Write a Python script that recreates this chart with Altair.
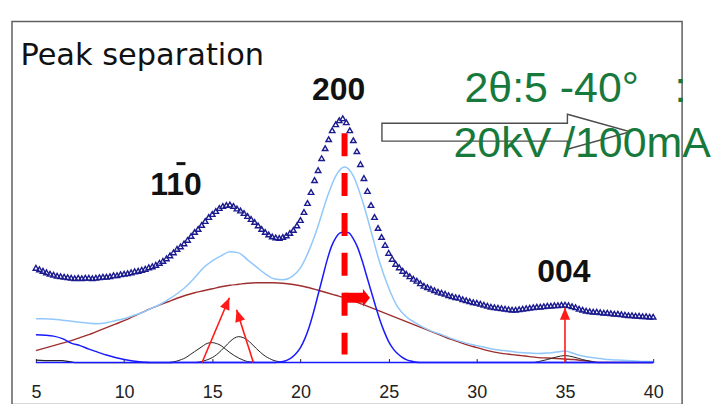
import altair as alt
import pandas as pd

# ---------------- data ----------------
# observed XRD intensity, 2theta = 5 .. 40 every 0.2 deg
obs_y = [95, 93.5, 92, 90.5, 89,
         88, 87, 86.5, 86, 85.5,
         85, 84.5, 85, 84.5, 85,
         85, 84.5, 85, 85.5, 86,
         86, 86.5, 87.5, 87.5, 88.5,
         89, 89.5, 90.5, 91.5, 92,
         93, 94, 95.5, 96.5, 98,
         100, 102, 104.5, 107.5, 110.5,
         114, 116.5, 119.5, 123, 127,
         131, 134, 138, 142, 146,
         149, 152, 155, 157, 158,
         158.5, 157, 154.5, 152.5, 150,
         147, 144, 141, 137.5, 134,
         131, 128.5, 126.5, 125.5, 125,
         126, 127.5, 130, 133, 137.5,
         143, 151, 160, 171, 183,
         193, 205, 215, 224, 233,
         239, 243, 245, 241, 233,
         223, 212, 199, 185, 172,
         158, 146, 135, 126, 118,
         110, 104, 99, 95.5, 92,
         89, 86.5, 84, 82, 79.5,
         77, 75.5, 74, 72.5, 71,
         70, 69, 67.5, 66.5, 65.5,
         65, 63.5, 62.5, 61.5, 60.5,
         60, 59, 58, 57, 56,
         55.5, 55, 54.5, 54, 53.5,
         53, 53, 53.5, 54, 54.5,
         55, 55.5, 56, 56, 56.5,
         57, 57, 57.5, 57.5, 58,
         58, 57.5, 56.5, 55.5, 54,
         53, 52, 51.5, 51, 51,
         50.5, 50, 50, 49.5, 49,
         49, 48.5, 48, 47.5, 47.5,
         47, 47, 46.5, 46.5, 46,
         46]
obs_x = [round(5 + 0.2 * i, 1) for i in range(len(obs_y))]

# fitted sum and amorphous background, every 0.5 deg
grid_x = [5 + 0.5 * i for i in range(71)]
sum_y = [44, 44, 43.5, 42.5, 41.5, 40.5, 39.5, 39, 40, 42, 44, 47, 50, 54, 58, 63,
         69, 76, 85, 95, 102, 107, 111, 110, 103, 96, 89, 84, 83, 86, 95, 113,
         137, 165, 187, 196, 187, 163, 132, 100, 75, 56, 46, 40, 35, 31, 28, 24.5,
         21.5, 19, 17, 15, 13, 12, 11, 10, 9.5, 9, 9.5, 10.5, 11.5, 9, 6.5, 5,
         4, 3, 2.5, 2, 1.5, 1, 1]
amor_y = [12, 14.5, 17, 19.5, 22, 25, 28, 31.5, 35, 38.5, 42, 46, 50, 54, 57.5, 61,
          64.5, 67.5, 70, 72, 74, 76, 77.5, 78.5, 79.5, 80, 80, 80, 79.5, 78.5, 77, 75,
          72.5, 70, 67.5, 65, 62, 58.5, 55, 51.5, 48, 44.5, 41, 37.5, 34, 30.5, 27, 23.5,
          20.5, 17.5, 15, 12.5, 10.5, 9, 8, 7, 6, 5, 4.5, 4, 3.5, 3, 2, 1,
          0, 0, 0, 0, 0, 0, 0]

# crystalline (200) peak
p200_x = [5, 18.5, 18.75, 19, 19.25, 19.5, 19.75, 20, 20.25, 20.5, 20.75, 21, 21.25,
          21.5, 21.75, 22, 22.25, 22.5, 22.75, 23, 23.25, 23.5, 23.75, 24, 24.25, 24.5,
          24.75, 25, 25.25, 25.5, 25.75, 26, 26.25, 26.5, 26.75, 40]
p200_y = [0, 0, 0.5, 1, 2.5, 5, 9, 15, 24, 36, 51, 68, 85,
          102, 116, 125, 130, 131, 130, 124, 115, 102, 87, 72, 57, 43,
          31, 21, 14, 9, 5.5, 3, 1.5, 0.5, 0, 0]

# low-angle component
low_x = [5, 5.5, 6, 6.5, 7, 7.5, 8, 8.5, 9, 9.5, 10, 10.5, 11, 11.5, 40]
low_y = [28, 27.5, 26.5, 24, 19.5, 17, 13.5, 10.5, 7.5, 5, 3, 1.5, 0.5, 0, 0]

# small black components
blk0_x = [5, 5.5, 6, 6.5, 6.9, 7.2, 12.75]
blk0_y = [2.5, 2, 2, 2, 1, 0, 0]
blk1_x = [12.5, 12.75, 13, 13.25, 13.5, 13.75, 14, 14.25, 14.5, 14.75, 15, 15.25, 15.5,
          15.75, 16, 16.25, 16.5, 16.75, 17, 17.25, 17.5]
blk1_y = [0, 0.5, 1.5, 3, 5, 8, 11, 14, 17, 19.5, 20, 19, 17,
          13.5, 10, 7, 4.5, 2.5, 1, 0.5, 0]
blk2_x = [14, 14.25, 14.5, 14.75, 15, 15.25, 15.5, 15.75, 16, 16.25, 16.5, 16.75, 17,
          17.25, 17.5, 17.75, 18, 18.25, 18.5, 18.75, 19]
blk2_y = [0, 0.5, 1.5, 3, 5, 8, 12, 16.5, 21, 24.5, 26, 25, 22.5,
          18.5, 14, 10, 6.5, 4, 2, 1, 0]
blk4_x = [33.25, 33.5, 34, 34.5, 35, 35.5, 36, 36.5, 36.75]
blk4_y = [0, 1, 3, 5.5, 7, 5.5, 3, 1, 0]

# annotations
tick_values = [5, 10, 15, 20, 25, 30, 35, 40]
arrow_x0 = [14.42, 17.33, 35.0]
arrow_y0 = [0, 0, 0]
arrow_x1 = [15.97, 16.38, 35.0]
arrow_y1 = [65, 53, 55]
arrow_angle = [22.9, 342.5, 0]

dash_x = [22.5]
dash_top = [230]
dash_bottom = [8]
shift_x0 = [22.5]
shift_x1 = [23.6]
shift_tip = [23.94]
shift_y = [65]

hkl_text = ["110", "200", "004"]
hkl_x = [12.94, 22.16, 34.94]
hkl_y = [168, 263, 81]
bar_x0 = [12.97]
bar_x1 = [13.48]
bar_y = [199.5]

title_text = ["Peak separation"]
title_x = [4.12]
title_y = [298]

NB = "\u00a0"
cond_text = ["2θ:5 -40°" + NB * 3 + ":", "20kV /100mA"]
cond_x = [29.3, 28.68]
cond_y = [261, 206]

big_arrow_x = [31.66]
big_arrow_y = [231.5]

# ---------------- chart ----------------
XS = alt.Scale(domain=[3.643, 41.64], nice=False, zero=False)
YS = alt.Scale(domain=[-42, 342], nice=False, zero=False)
XA = alt.Axis(values=tick_values, offset=-46, domain=False, grid=False, tickSize=4,
              tickColor="#222", tickWidth=1, labelFontSize=18, labelColor="#222",
              labelFont="Liberation Sans", labelPadding=21, title=None, labelFlush=False)


def X(f="x"):
    return alt.X(f + ":Q", scale=XS, axis=XA)


def Y(f="y"):
    return alt.Y(f + ":Q", scale=YS, axis=None)


def line(xs, ys, color, width, interp="monotone"):
    df = pd.DataFrame({"x": xs, "y": ys})
    return alt.Chart(df).mark_line(color=color, strokeWidth=width, interpolate=interp).encode(
        x=X(), y=Y())


layers = []
layers.append(line(grid_x, amor_y, "#9e2f2f", 1.4))
layers.append(line(grid_x, sum_y, "#92c8fb", 1.5))
layers.append(line(blk0_x, blk0_y, "#222222", 1.2, "linear"))
layers.append(line(blk1_x, blk1_y, "#222222", 1.0))
layers.append(line(blk2_x, blk2_y, "#222222", 1.0))
layers.append(line(blk4_x, blk4_y, "#222222", 1.0))
layers.append(line(low_x, low_y, "#1a1aff", 1.5))
layers.append(line(p200_x, p200_y, "#1a1aff", 1.5))

obs_df = pd.DataFrame({"x": obs_x, "y": obs_y})
layers.append(alt.Chart(obs_df).mark_point(shape="triangle-up", filled=False, color="#1b1b8f",
                                           size=30, strokeWidth=1.4, opacity=1).encode(x=X(), y=Y()))

# red dashed marker at 22.5
dash_df = pd.DataFrame({"x": dash_x, "y": dash_top, "y2": dash_bottom})
layers.append(alt.Chart(dash_df).mark_rule(color="#ff0000", strokeWidth=6, strokeDash=[23, 17]).encode(
    x=X(), y=Y(), y2="y2:Q"))

# red block arrow (shift to the right)
shift_df = pd.DataFrame({"x": shift_x0, "x2": shift_x1, "y": shift_y, "tip": shift_tip})
layers.append(alt.Chart(shift_df).mark_rule(color="#ff0000", strokeWidth=10).encode(
    x=X(), x2="x2:Q", y=Y()))
layers.append(alt.Chart(shift_df).mark_point(shape="M0,0L-2,-2.5L-2,2.5Z", filled=True, color="#ff0000",
                                             size=49, opacity=1).encode(x=X("tip"), y=Y()))

# thin red arrows
arr_df = pd.DataFrame({"x": arrow_x0, "y": arrow_y0, "x2": arrow_x1, "y2": arrow_y1, "a": arrow_angle})
layers.append(alt.Chart(arr_df).mark_rule(color="#ff1a1a", strokeWidth=1.6).encode(
    x=X(), y=Y(), x2="x2:Q", y2="y2:Q"))
layers.append(alt.Chart(arr_df).mark_point(shape="M0,0L0.85,2L-0.85,2Z", filled=True, color="#ff1a1a",
                                           size=144, opacity=1).encode(
    x=X("x2"), y=Y("y2"), angle=alt.Angle("a:Q", scale=None)))

# white outlined arrow
ba_df = pd.DataFrame({"x": big_arrow_x, "y": big_arrow_y})
layers.append(alt.Chart(ba_df).mark_point(
    shape="M-1,-0.068L0.494,-0.068L0.494,-0.141L1,0L0.494,0.141L0.494,0.076L-1,0.076Z",
    filled=True, fill="white", stroke="#4d4d4d", strokeWidth=1.4, size=62001, opacity=1).encode(
    x=X(), y=Y()))

# texts
t_df = pd.DataFrame({"x": title_x, "y": title_y, "t": title_text})
layers.append(alt.Chart(t_df).mark_text(align="left", baseline="alphabetic", font="DejaVu Sans",
                                        fontSize=30.5, color="#111111").encode(x=X(), y=Y(), text="t:N"))

h_df = pd.DataFrame({"x": hkl_x, "y": hkl_y, "t": hkl_text})
layers.append(alt.Chart(h_df).mark_text(align="center", baseline="alphabetic", font="Liberation Sans",
                                        fontSize=32, fontWeight="bold", color="#111111").encode(
    x=X(), y=Y(), text="t:N"))
bar_df = pd.DataFrame({"x": bar_x0, "x2": bar_x1, "y": bar_y})
layers.append(alt.Chart(bar_df).mark_rule(color="#111111", strokeWidth=3).encode(x=X(), x2="x2:Q", y=Y()))

c_df = pd.DataFrame({"x": cond_x, "y": cond_y, "t": cond_text})
layers.append(alt.Chart(c_df).mark_text(align="left", baseline="alphabetic", font="Liberation Sans",
                                        fontSize=43, color="#177a3c").encode(x=X(), y=Y(), text="t:N"))

chart = alt.layer(*layers).properties(
    width=672, height=384,
    autosize=alt.AutoSizeParams(type="none"),
    padding={"left": 4, "top": 13, "right": 30, "bottom": 0},
).configure_view(stroke="#606060", strokeWidth=1.5)

chart.save("out.html", embed_options={"renderer": "svg", "actions": False})
